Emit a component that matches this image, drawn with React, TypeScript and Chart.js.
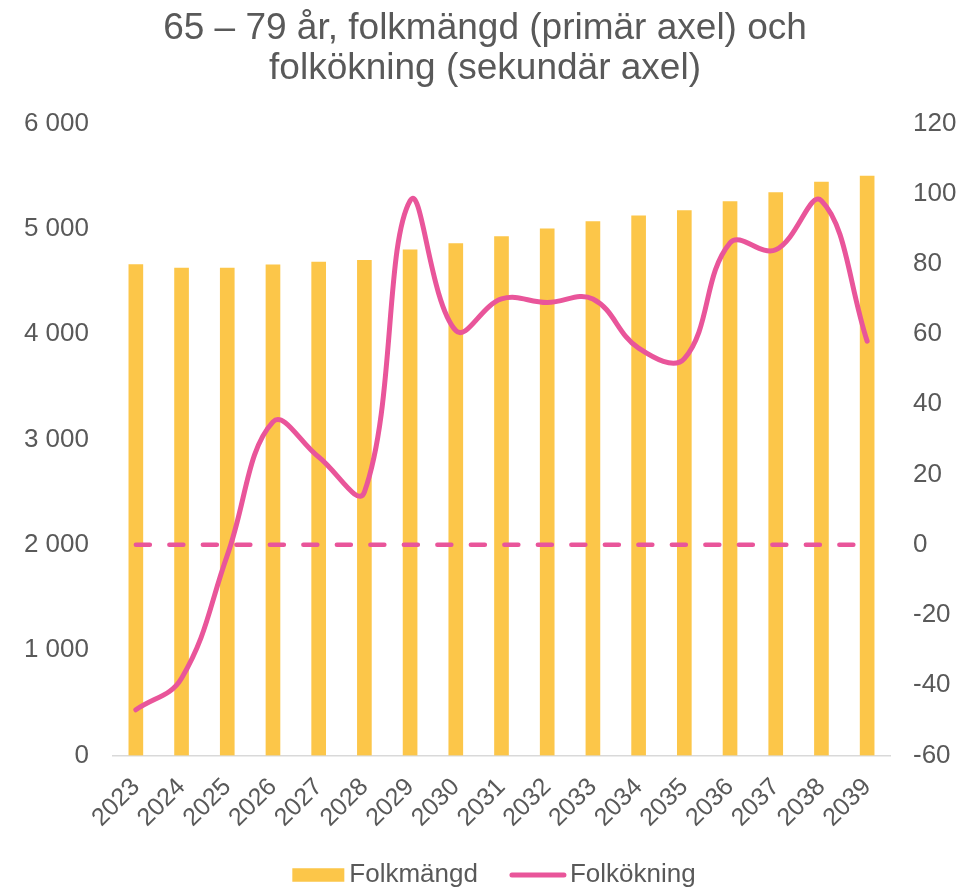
import React, { useEffect, useRef } from "react";
import { Chart, registerables } from "chart.js";

Chart.register(...registerables);

const years = ["2023", "2024", "2025", "2026", "2027", "2028", "2029", "2030", "2031", "2032", "2033", "2034", "2035", "2036", "2037", "2038", "2039"];
const folkmangd = [4660, 4626, 4626, 4657, 4683, 4700, 4799, 4859, 4925, 4999, 5068, 5122, 5173, 5258, 5344, 5442, 5499];
const folkokning = [-47, -38, -3, 35, 25, 15, 98, 61, 70, 69, 70, 56, 53, 86, 84, 98, 58];
const nollinje = [0, 0, 0, 0, 0, 0, 0, 0, 0, 0, 0, 0, 0, 0, 0, 0, 0];
const titleLines = ["65 – 79 år, folkmängd (primär axel) och", "folkökning (sekundär axel)"];
const legendNames = ["Folkmängd", "Folkökning"];

const FONT = "'Liberation Sans', Arial, sans-serif";
const TXT = "#595959";
const BAR = "#FCC649";
const PINK = "#E9559A";

const fmt = (v: number) => String(v).replace(/\B(?=(\d{3})+(?!\d))/g, " ");

const legendPlugin = {
  id: "customLegend",
  afterDraw(chart: any) {
    const ctx = chart.ctx;
    ctx.save();
    ctx.font = `26px ${FONT}`;
    ctx.textBaseline = "middle";
    ctx.fillStyle = TXT;
    const w1 = ctx.measureText(legendNames[0]).width;
    const w2 = ctx.measureText(legendNames[1]).width;
    const total = 52 + 5 + w1 + 32 + 56 + 4 + w2;
    let x = 494 - total / 2;
    const y = 875;
    ctx.fillStyle = BAR;
    ctx.fillRect(x, y - 6.75, 52, 13.5);
    x += 57;
    ctx.fillStyle = TXT;
    ctx.fillText(legendNames[0], x, y);
    x += w1 + 32;
    ctx.strokeStyle = PINK;
    ctx.lineWidth = 5;
    ctx.lineCap = "round";
    ctx.beginPath();
    ctx.moveTo(x + 2, y);
    ctx.lineTo(x + 54, y);
    ctx.stroke();
    x += 60;
    ctx.fillText(legendNames[1], x, y);
    ctx.restore();
  },
};

export default function App() {
  const ref = useRef<HTMLCanvasElement>(null);
  useEffect(() => {
    document.body.style.margin = "0";
    const chart = new Chart(ref.current as HTMLCanvasElement, {
      type: "bar",
      data: {
        labels: years,
        datasets: [
          {
            type: "line",
            label: legendNames[1],
            data: folkokning,
            yAxisID: "y1",
            borderColor: PINK,
            borderWidth: 5,
            pointRadius: 0,
            tension: 0.4,
            borderCapStyle: "round",
            order: 1,
          } as any,
          {
            type: "line",
            label: "noll",
            data: nollinje,
            yAxisID: "y1",
            borderColor: PINK,
            borderWidth: 4.5,
            borderDash: [14, 19.5],
            borderCapStyle: "round",
            pointRadius: 0,
            order: 2,
          } as any,
          {
            type: "bar",
            label: legendNames[0],
            data: folkmangd,
            yAxisID: "y",
            backgroundColor: BAR,
            barThickness: 14,
            order: 3,
          },
        ],
      },
      options: {
        animation: false,
        responsive: false,
        layout: { padding: { left: 0, right: 0, top: 0, bottom: 38 } },
        plugins: {
          legend: { display: false },
          tooltip: { enabled: false },
          title: {
            display: true,
            text: titleLines,
            color: TXT,
            font: { family: FONT, size: 37, weight: "normal", lineHeight: 1.1 },
            padding: { top: 8, bottom: 34 },
          },
        },
        scales: {
          x: {
            grid: { display: false, drawTicks: false },
            border: { display: true, color: "#D9D9D9", width: 1.5 },
            ticks: {
              color: TXT,
              font: { family: FONT, size: 25 },
              maxRotation: 45,
              minRotation: 45,
              padding: 17,
              autoSkip: false,
            },
          },
          y: {
            position: "left",
            min: 0,
            max: 6000,
            grid: { display: false, drawTicks: false },
            border: { display: false },
            ticks: {
              stepSize: 1000,
              color: TXT,
              font: { family: FONT, size: 26 },
              padding: 24,
              callback: (v: any) => fmt(Number(v)),
            },
            afterFit: (s: any) => {
              s.width = 113;
            },
          },
          y1: {
            position: "right",
            min: -60,
            max: 120,
            grid: { display: false, drawTicks: false },
            border: { display: false },
            ticks: {
              stepSize: 20,
              color: TXT,
              font: { family: FONT, size: 26 },
              padding: 23,
            },
            afterFit: (s: any) => {
              s.width = 80;
            },
          },
        },
      },
      plugins: [legendPlugin],
    });
    return () => chart.destroy();
  }, []);
  return (
    <div style={{ width: 970, height: 888 }}>
      <canvas ref={ref} width={970} height={888} style={{ display: "block" }} />
    </div>
  );
}
